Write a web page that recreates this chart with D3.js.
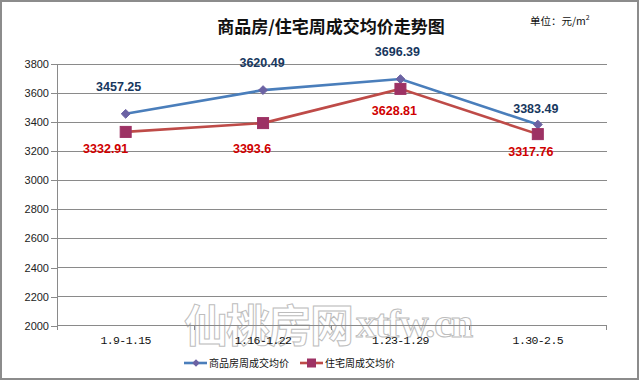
<!DOCTYPE html>
<html><head><meta charset="utf-8">
<script src="https://cdn.jsdelivr.net/npm/d3@7/dist/d3.min.js"></script>
<style>body{margin:0;background:#fff}svg{display:block}</style>
</head><body>
<svg id="c" width="640" height="381"></svg>
<script>
const categories = ["1.9-1.15", "1.16-1.22", "1.23-1.29", "1.30-2.5"];
const seriesNames = ["商品房周成交均价", "住宅周成交均价"];
const commercial = [3457.25, 3620.49, 3696.39, 3383.49];
const residential = [3332.91, 3393.6, 3628.81, 3317.76];
const yTicks = [2000, 2200, 2400, 2600, 2800, 3000, 3200, 3400, 3600, 3800];
const title = "商品房/住宅周成交均价走势图";
const unitText = "单位：元/m";

// label offsets (layout only)
const blueOff = [[-7,-27],[-1,-27],[-3,-27],[-2,-16]];
const redOff = [[-20,17],[-11,26],[-6,22],[-7,18]];

const svg = d3.select("#c");
const L = 57, R = 606.5, T = 64, B = 325.7;
const x = d3.scaleBand().domain(categories).range([L, R]);
const y = d3.scaleLinear().domain([2000, 3800]).range([B, T]);

// border
svg.append("rect").attr("x",1).attr("y",1).attr("width",637).attr("height",378)
  .attr("fill","#fff").attr("stroke","#8c8c8c").attr("stroke-width",2);

// grid
svg.append("g").selectAll("line").data(yTicks.filter(d=>d>2000)).join("line")
  .attr("x1",L).attr("x2",R).attr("y1",d=>y(d)).attr("y2",d=>y(d))
  .attr("stroke","#8a8a8a").attr("stroke-width",1).attr("shape-rendering","crispEdges");

// y axis
const ya = svg.append("g").attr("transform",`translate(${L},0)`)
  .call(d3.axisLeft(y).tickValues(yTicks).tickSize(6).tickPadding(2).tickFormat(d3.format("d")));
ya.select(".domain").attr("stroke","#8a8a8a").attr("d",`M0,${T}V${B}`);
ya.selectAll(".tick line").attr("stroke","#8a8a8a");
ya.selectAll("text").attr("font-family","Liberation Sans, Arial").attr("font-size",11).attr("fill","#222");
ya.attr("shape-rendering","crispEdges");

// watermark
const wm = svg.append("g").attr("fill","none").attr("stroke","#bdbdbd").attr("stroke-width",1);
wm.append("text").attr("x",184).attr("y",342).attr("font-family","Noto Sans CJK SC").attr("font-size",44).attr("font-weight","bold").attr("letter-spacing",-2).text("仙桃房网");
wm.append("text").attr("x",356).attr("y",337).attr("font-family","Liberation Serif").attr("font-size",40).attr("font-weight","bold").attr("letter-spacing",-1).text("xtfw.cn");

// x axis
const xa = svg.append("g").attr("transform",`translate(0,${B})`);
xa.append("line").attr("x1",L).attr("x2",R).attr("stroke","#8a8a8a").attr("shape-rendering","crispEdges");
const bounds = categories.map(c=>x(c)).concat([R]);
xa.selectAll("line.t").data(bounds).join("line").attr("class","t")
  .attr("x1",d=>d).attr("x2",d=>d).attr("y1",0).attr("y2",4).attr("stroke","#8a8a8a").attr("shape-rendering","crispEdges");
xa.selectAll("text").data(categories).join("text")
  .attr("x",d=>x(d)+x.bandwidth()/2).attr("y",18).attr("text-anchor","middle")
  .attr("font-family","Liberation Mono, DejaVu Sans Mono, monospace").attr("font-size",11.5).attr("fill","#111")
  .attr("letter-spacing",-0.6).text(d=>d);

const cx = d => x(d)+x.bandwidth()/2;
const line = d3.line().x((d,i)=>cx(categories[i])).y(d=>y(d));

// residential line
svg.append("path").datum(residential).attr("d",line).attr("fill","none").attr("stroke","#BE4B48").attr("stroke-width",2.6);
// commercial line
svg.append("path").datum(commercial).attr("d",line).attr("fill","none").attr("stroke","#4A7EBB").attr("stroke-width",2.6);

svg.append("g").selectAll("path").data(commercial).join("path")
  .attr("d",d3.symbol(d3.symbolDiamond2,50)).attr("fill","#6B62A3").attr("stroke","#6B62A3")
  .attr("transform",(d,i)=>`translate(${cx(categories[i])},${y(d)})`);
svg.append("g").selectAll("rect").data(residential).join("rect")
  .attr("x",(d,i)=>cx(categories[i])-5.5).attr("y",d=>y(d)-5.5).attr("width",11).attr("height",11)
  .attr("fill","#9D3264").attr("stroke","#9D3264");

// data labels
svg.append("g").selectAll("text").data(commercial).join("text")
  .attr("x",(d,i)=>cx(categories[i])+blueOff[i][0]).attr("y",(d,i)=>y(d)+blueOff[i][1])
  .attr("dy","0.35em").attr("text-anchor","middle").attr("font-family","Liberation Sans, Arial").attr("font-weight","bold")
  .attr("font-size",12.5).attr("fill","#17375E").text(d=>d);
svg.append("g").selectAll("text").data(residential).join("text")
  .attr("x",(d,i)=>cx(categories[i])+redOff[i][0]).attr("y",(d,i)=>y(d)+redOff[i][1])
  .attr("dy","0.35em").attr("text-anchor","middle").attr("font-family","Liberation Sans, Arial").attr("font-weight","bold")
  .attr("font-size",12.5).attr("fill","#D00000").text(d=>d);

// title
svg.append("text").attr("x",331).attr("y",33).attr("text-anchor","middle").attr("font-family","Noto Sans CJK SC")
  .attr("font-weight","bold").attr("font-size",17).attr("fill","#111").text(title);
const u = svg.append("text").attr("x",530).attr("y",25).attr("font-family","Noto Sans CJK SC").attr("font-size",10.5).attr("fill","#111");
u.append("tspan").text(unitText);
u.append("tspan").attr("dy",-5).attr("font-size",7).text("2");

// legend
const lg = svg.append("g");
const items = [{x:184, name:seriesNames[0], c:"#4A7EBB", m:"#6B62A3", sym:"d"},{x:300, name:seriesNames[1], c:"#BE4B48", m:"#9D3264", sym:"s"}];
items.forEach(it=>{
  const g = lg.append("g").attr("transform",`translate(${it.x},363)`);
  g.append("line").attr("x1",0).attr("x2",23).attr("stroke",it.c).attr("stroke-width",2.6);
  if(it.sym==="d") g.append("path").attr("d",d3.symbol(d3.symbolDiamond2,36)).attr("transform","translate(12,0)").attr("fill",it.m);
  else g.append("rect").attr("x",7).attr("y",-4.5).attr("width",9).attr("height",9).attr("fill",it.m);
  g.append("text").attr("x",25).attr("dy","0.35em").attr("font-family","Noto Sans CJK SC").attr("font-size",10).attr("fill","#111").text(it.name);
});
</script>
</body></html>
